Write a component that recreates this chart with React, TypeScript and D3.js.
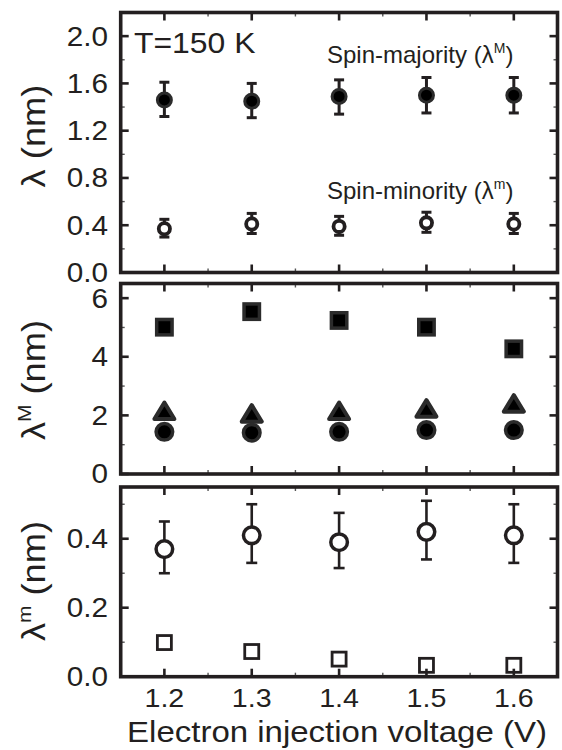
import * as d3 from 'd3';

// x: electron injection voltage (V)
const voltages = [1.2, 1.3, 1.4, 1.5, 1.6];
const xMinor = [1.25, 1.35, 1.45, 1.55];

// panel 1: lambda (nm)
const majority = [1.46, 1.45, 1.49, 1.5, 1.5];
const majorityLo = [1.32, 1.31, 1.34, 1.35, 1.35];
const majorityHi = [1.61, 1.6, 1.63, 1.65, 1.65];
const minority = [0.37, 0.41, 0.39, 0.42, 0.41];
const minorityLo = [0.3, 0.33, 0.315, 0.34, 0.33];
const minorityHi = [0.45, 0.5, 0.475, 0.51, 0.5];

// panel 2: lambda^M (nm)
const majSquares = [5.01, 5.54, 5.24, 5.01, 4.27];
const majTriangles = [2.15, 2.06, 2.15, 2.23, 2.4];
const majCircles = [1.44, 1.41, 1.44, 1.5, 1.5];

// panel 3: lambda^m (nm)
const minSquares = [0.099, 0.073, 0.051, 0.033, 0.033];

const INK = '#231f20';
const FONT = '"Liberation Sans", Arial, Helvetica, sans-serif';
const SX = 1.1; // the source lettering is a bit wider than Arial

const x = d3.scaleLinear().domain([1.15, 1.65]).range([120.7, 557.5]);

// text stretched horizontally around its anchor point
function Txt({ x, y, rot = 0, size, anchor = 'start', dy, children }: any) {
  return (
    <text transform={`translate(${x},${y}) rotate(${rot}) scale(${SX},1)`} dy={dy}
      textAnchor={anchor} fontSize={size} fill={INK} fontFamily={FONT}>{children}</text>
  );
}

type PanelProps = {
  y: d3.ScaleLinear<number, number>;
  major: number[];
  minor: number[];
  fmt: (v: number) => string;
  showX?: boolean;
  children?: any;
};

function Panel({ y, major, minor, fmt, showX, children }: PanelProps) {
  const [x0, x1] = x.range();
  const [yb, yt] = y.range();
  const ML = 8, mL = 4;
  return (
    <g>
      {children}
      {/* x ticks, bottom and top, inward */}
      {voltages.map((v) => (
        <g key={'xm' + v} stroke={INK} strokeWidth={2.6}>
          <line x1={x(v)} x2={x(v)} y1={yb} y2={yb - ML} />
          <line x1={x(v)} x2={x(v)} y1={yt} y2={yt + ML} />
        </g>
      ))}
      {xMinor.map((v) => (
        <g key={'xn' + v} stroke="#555" strokeWidth={1.4}>
          <line x1={x(v)} x2={x(v)} y1={yb} y2={yb - mL} />
          <line x1={x(v)} x2={x(v)} y1={yt} y2={yt + mL} />
        </g>
      ))}
      {/* y ticks, left and right, inward */}
      {major.map((v) => (
        <g key={'ym' + v} stroke={INK} strokeWidth={2.6}>
          <line x1={x0} x2={x0 + ML} y1={y(v)} y2={y(v)} />
          <line x1={x1} x2={x1 - ML} y1={y(v)} y2={y(v)} />
        </g>
      ))}
      {minor.map((v) => (
        <g key={'yn' + v} stroke="#555" strokeWidth={1.4}>
          <line x1={x0} x2={x0 + mL} y1={y(v)} y2={y(v)} />
          <line x1={x1} x2={x1 - mL} y1={y(v)} y2={y(v)} />
        </g>
      ))}
      {major.map((v) => (
        <Txt key={'yl' + v} x={108} y={y(v)} dy="0.35em" anchor="end" size={27}>{fmt(v)}</Txt>
      ))}
      {showX && voltages.map((v) => (
        <Txt key={'xl' + v} x={x(v)} y={707} anchor="middle" size={26}>{d3.format('.1f')(v)}</Txt>
      ))}
      <rect x={x0} y={yt} width={x1 - x0} height={yb - yt}
        fill="none" stroke={INK} strokeWidth={3.6} />
    </g>
  );
}

function ErrorBars({ y, lo, hi, w, half }: { y: d3.ScaleLinear<number, number>; lo: number[]; hi: number[]; w: number; half: number }) {
  return (
    <g stroke={INK} strokeWidth={w}>
      {voltages.map((v, i) => (
        <g key={v}>
          <line x1={x(v)} x2={x(v)} y1={y(lo[i])} y2={y(hi[i])} />
          <line x1={x(v) - half} x2={x(v) + half} y1={y(lo[i])} y2={y(lo[i])} />
          <line x1={x(v) - half} x2={x(v) + half} y1={y(hi[i])} y2={y(hi[i])} />
        </g>
      ))}
    </g>
  );
}

export default function App() {
  const y1 = d3.scaleLinear().domain([0, 2.2]).range([272.5, 12.5]);
  const y2 = d3.scaleLinear().domain([0, 6.5]).range([474, 283.5]);
  const y3 = d3.scaleLinear().domain([0, 0.55]).range([676.7, 487]);
  const tri = 'M0,-8.5L10,8L-10,8Z';

  return (
    <svg width={562} height={750} style={{ position: 'absolute', left: 0, top: 0, background: '#fff' }}>
      {/* top panel */}
      <Panel y={y1} major={d3.range(0, 2.01, 0.4)} minor={d3.range(0.2, 2.2, 0.4)}
        fmt={d3.format('.1f')}>
        <ErrorBars y={y1} lo={majorityLo} hi={majorityHi} w={3} half={5} />
        <ErrorBars y={y1} lo={minorityLo} hi={minorityHi} w={3} half={5} />
        {voltages.map((v, i) => (
          <circle key={'a' + v} cx={x(v)} cy={y1(majority[i])} r={7}
            fill="#000" stroke="#2b2b2b" strokeWidth={3} />
        ))}
        {voltages.map((v, i) => (
          <circle key={'b' + v} cx={x(v)} cy={y1(minority[i])} r={5.6}
            fill="#fff" stroke={INK} strokeWidth={3.8} />
        ))}
        <Txt x={134} y={53} size={29}>T=150 K</Txt>
        <text x={327} y={63} fontSize={24} fill={INK} fontFamily={FONT}>
          Spin-majority (λ<tspan dy={-10} fontSize={14}>M</tspan><tspan dy={10}>)</tspan>
        </text>
        <text x={327} y={199} fontSize={24} fill={INK} fontFamily={FONT}>
          Spin-minority (λ<tspan dy={-10} fontSize={14}>m</tspan><tspan dy={10}>)</tspan>
        </text>
      </Panel>

      {/* middle panel */}
      <Panel y={y2} major={[0, 2, 4, 6]} minor={[1, 3, 5]} fmt={d3.format('d')}>
        {voltages.map((v, i) => (
          <rect key={'s' + v} x={x(v) - 7.7} y={y2(majSquares[i]) - 7.7} width={15.4} height={15.4}
            fill="#000" stroke="#2b2b2b" strokeWidth={3.5} />
        ))}
        {voltages.map((v, i) => (
          <path key={'t' + v} d={tri} transform={`translate(${x(v)},${y2(majTriangles[i])})`}
            fill="#000" stroke="#2b2b2b" strokeWidth={4} strokeLinejoin="round" />
        ))}
        {voltages.map((v, i) => (
          <circle key={'c' + v} cx={x(v)} cy={y2(majCircles[i])} r={8.3}
            fill="#000" stroke="#2b2b2b" strokeWidth={3.5} />
        ))}
      </Panel>

      {/* bottom panel */}
      <Panel y={y3} major={[0, 0.2, 0.4]} minor={[0.1, 0.3, 0.5]} fmt={d3.format('.1f')} showX>
        <ErrorBars y={y3} lo={minorityLo} hi={minorityHi} w={2.6} half={5.5} />
        {voltages.map((v, i) => (
          <circle key={'o' + v} cx={x(v)} cy={y3(minority[i])} r={8.3}
            fill="#fff" stroke={INK} strokeWidth={3.5} />
        ))}
        {voltages.map((v, i) => (
          <rect key={'q' + v} x={x(v) - 7} y={y3(minSquares[i]) - 7} width={14} height={14}
            fill="#fff" stroke={INK} strokeWidth={2.8} />
        ))}
      </Panel>

      {/* axis titles */}
      <Txt x={45} y={136} rot={-90} anchor="middle" size={33}>λ (nm)</Txt>
      <Txt x={45} y={380} rot={-90} anchor="middle" size={33}>
        λ<tspan dy={-14} fontSize={19}>M</tspan><tspan dy={14}> (nm)</tspan>
      </Txt>
      <Txt x={45} y={581} rot={-90} anchor="middle" size={33}>
        λ<tspan dy={-14} fontSize={19}>m</tspan><tspan dy={14}> (nm)</tspan>
      </Txt>
      <Txt x={337} y={742} anchor="middle" size={30}>Electron injection voltage (V)</Txt>
    </svg>
  );
}
